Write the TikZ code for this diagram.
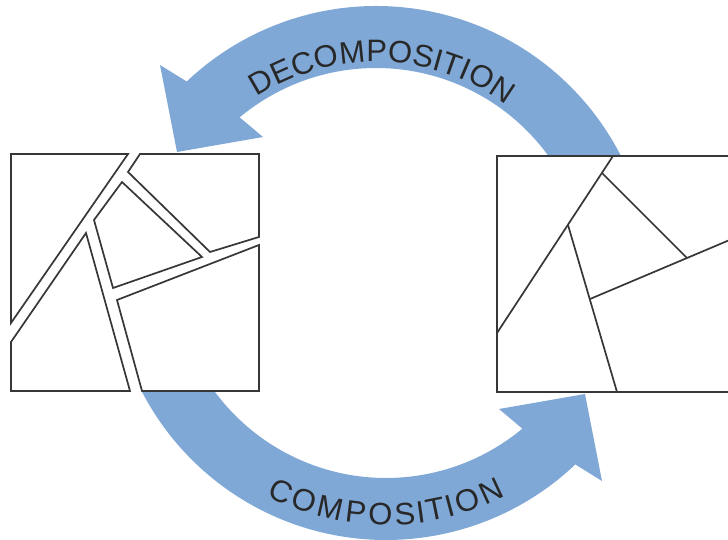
\documentclass[tikz,border=0pt]{standalone}
\usepackage{fontspec}
\setmainfont{Liberation Sans}
\usetikzlibrary{calc}
\definecolor{arrowblue}{RGB}{127,168,215}
\definecolor{inkgray}{RGB}{55,55,55}
\definecolor{txtgray}{RGB}{40,40,40}
\tikzset{
  piece/.style={draw=inkgray,line width=1.7pt,line join=miter},
  cut/.style={draw=inkgray,line width=1.7pt},
  lettr/.style={text=txtgray,inner sep=0pt,anchor=base,font=\fontsize{31}{31}\selectfont},
  band/.style={fill=arrowblue}
}
\begin{document}
\begin{tikzpicture}[x=1pt,y=1pt]
\useasboundingbox (0,0) rectangle (728,540);
\clip (0,0) rectangle (728,540);
\coordinate (C1) at (376,259);
\coordinate (C2) at (386,275);
% top arrow (decomposition)
\fill[band] ($(C1)+(20:275)$) arc[start angle=20,end angle=133.5,radius=275]
  -- (160,475) -- (177,388) -- (263,403)
  -- ($(C1)+(129.8:213)$) arc[start angle=129.8,end angle=20,radius=213] -- cycle;
% bottom arrow (composition), same shape turned half round
\fill[band] ($(C2)+(200:275)$) arc[start angle=200,end angle=313.5,radius=275]
  -- (602,59) -- (585,146) -- (499,131)
  -- ($(C2)+(309.8:213)$) arc[start angle=309.8,end angle=200,radius=213] -- cycle;
% left square: separated pieces
\fill[white] (11,149) rectangle (259,386);
\draw[piece] (11,386) -- (128,386) -- (11,217) -- cycle;
\draw[piece] (11,198) -- (86,307) -- (130,149) -- (11,149) -- cycle;
\draw[piece] (140,386) -- (259,386) -- (259,303) -- (210,288) -- (128,368) -- cycle;
\draw[piece] (122,358) -- (202,283) -- (113,252) -- (94,320) -- cycle;
\draw[piece] (117,240) -- (259,295) -- (259,149) -- (142,149) -- cycle;
% right square: assembled
\coordinate (RA) at (613,384);
\coordinate (RB) at (497,207);
\coordinate (RC) at (568,315);
\coordinate (RD) at (617,148);
\coordinate (RE) at (602,367);
\coordinate (RF) at (687,282);
\coordinate (RG) at (590,241);
\coordinate (RH) at (745,306.5);
\fill[white] (497,148) rectangle (745,384);
\draw[piece] (497,148) rectangle (745,384);
\draw[cut] (RA) -- (RB);
\draw[cut] (RC) -- (RD);
\draw[cut] (RE) -- (RF);
\draw[cut] (RG) -- (RH);
% labels
\foreach \ch/\a in {D/120,E/114.33,C/108.66,O/102.54,M/95.96,P/89.84,O/83.94,S/78.05,I/74.19,T/70.56,I/66.93,O/62.62,N/56.5}
  \node[lettr,rotate=\a-90] at ($(C1)+(\a:219)$) {\ch};
\foreach \ch/\a in {C/-114.9,O/-109.06,M/-102.78,P/-96.93,O/-91.30,S/-85.67,I/-81.99,T/-78.53,I/-75.06,O/-70.95,N/-65.1}
  \node[lettr,rotate=\a+90] at ($(C2)+(\a:260)$) {\ch};
\end{tikzpicture}
\end{document}
